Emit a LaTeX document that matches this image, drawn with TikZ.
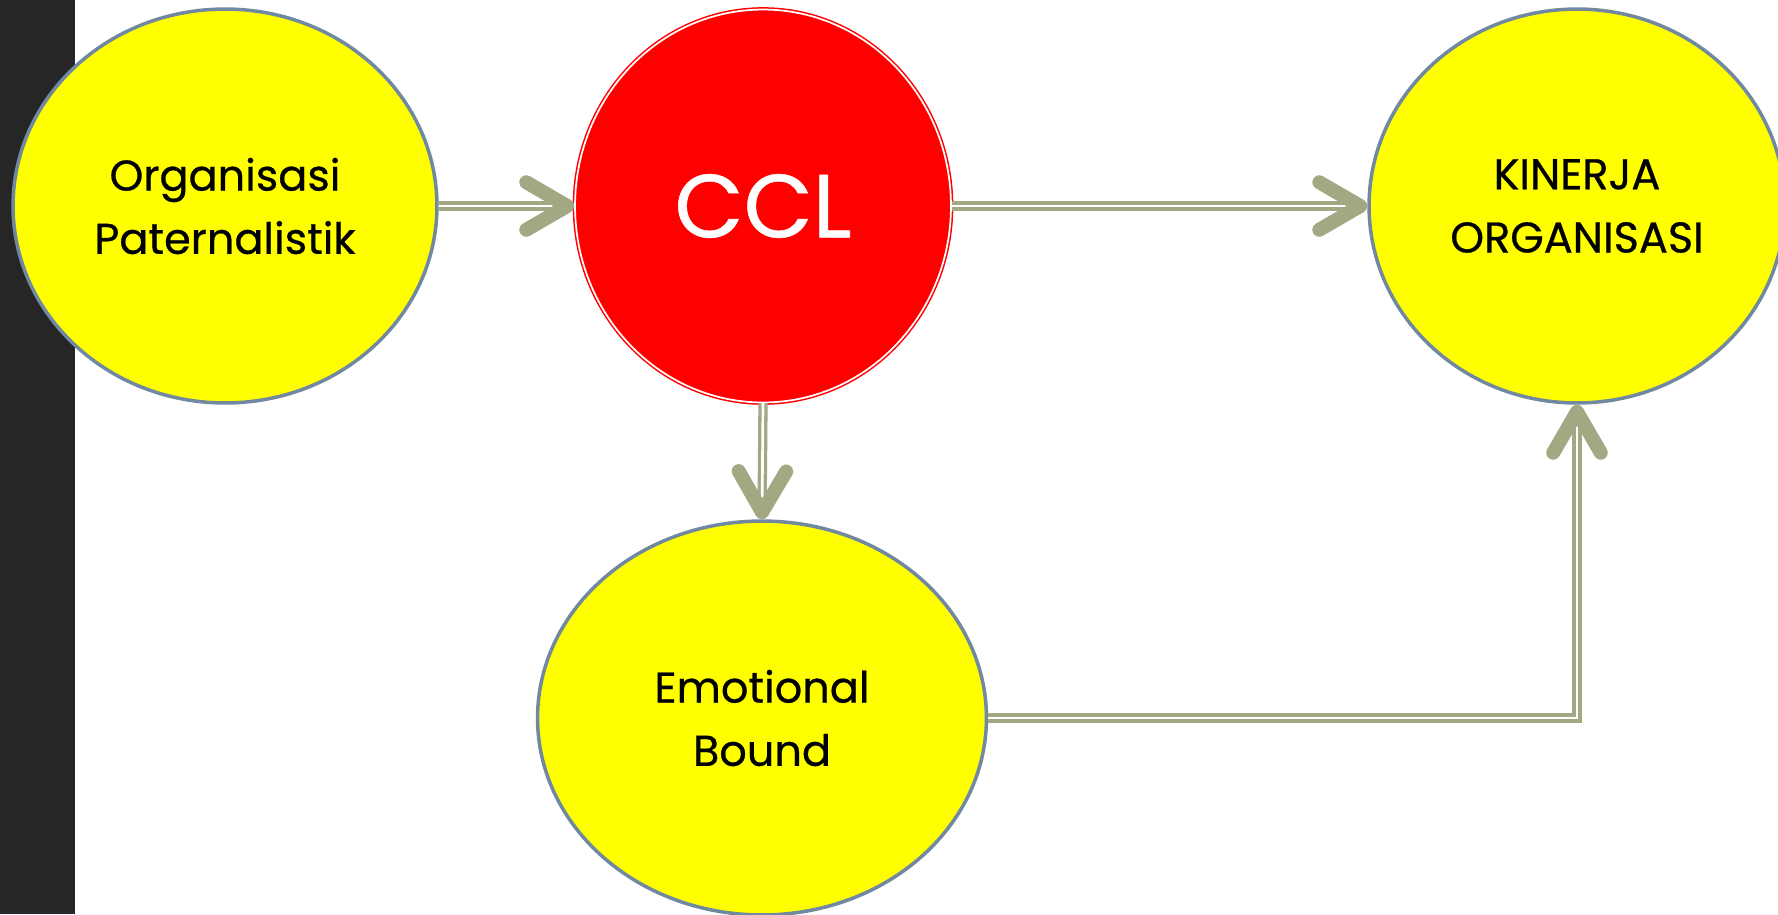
\documentclass[tikz,border=0pt]{standalone}
\usepackage{fontspec}
\setmainfont{Poppins}[UprightFeatures={FakeBold=0.6}]
\usetikzlibrary{shapes.geometric,arrows.meta}

\definecolor{barc}{RGB}{38,38,38}
\definecolor{rimc}{RGB}{112,136,160}
\definecolor{linkc}{RGB}{163,168,130}
\definecolor{cclred}{RGB}{255,0,0}
\definecolor{blobc}{RGB}{255,255,0}

\begin{document}
\begin{tikzpicture}[x=0.02cm, y=-0.02cm,
  blob/.style={ellipse, draw=rimc, line width=0.07cm, fill=blobc, inner sep=0pt,
    align=center, font=\fontsize{24.5}{36}\selectfont},
  link/.style={draw=linkc, line width=0.066cm, double=white, double distance=0.054cm,
    -{Straight Barb[length=0.82cm, width=0.95cm, line width=0.28cm, round]}}]

\useasboundingbox (0,0) rectangle (1778,914) ;
\fill [barc] (0,0) rectangle (75,914) ;

\node [blob, minimum width=8.48cm, minimum height=7.88cm] (org) at (225,206) {Organisasi\\Paternalistik} ;
\node [ellipse, fill=cclred, draw=cclred, line width=0.03cm, double=white, double distance=0.035cm,
  minimum width=7.52cm, minimum height=7.86cm, inner sep=0pt, text=white,
  font=\fontsize{51}{60}\selectfont] (ccl) at (763,206) {CCL} ;
\node [blob, minimum width=8.32cm, minimum height=7.88cm] (kin) at (1577,206) {KINERJA\\ORGANISASI} ;
\node [blob, minimum width=8.98cm, minimum height=7.88cm] (emo) at (762,718) {Emotional\\Bound} ;

\draw [link] (org) to (ccl) ;
\draw [link] (ccl) to (kin) ;
\draw [link] (ccl.south) to (emo.north) ;
\draw [link] (emo.east) -| (kin.south) ;

\end{tikzpicture}
\end{document}
